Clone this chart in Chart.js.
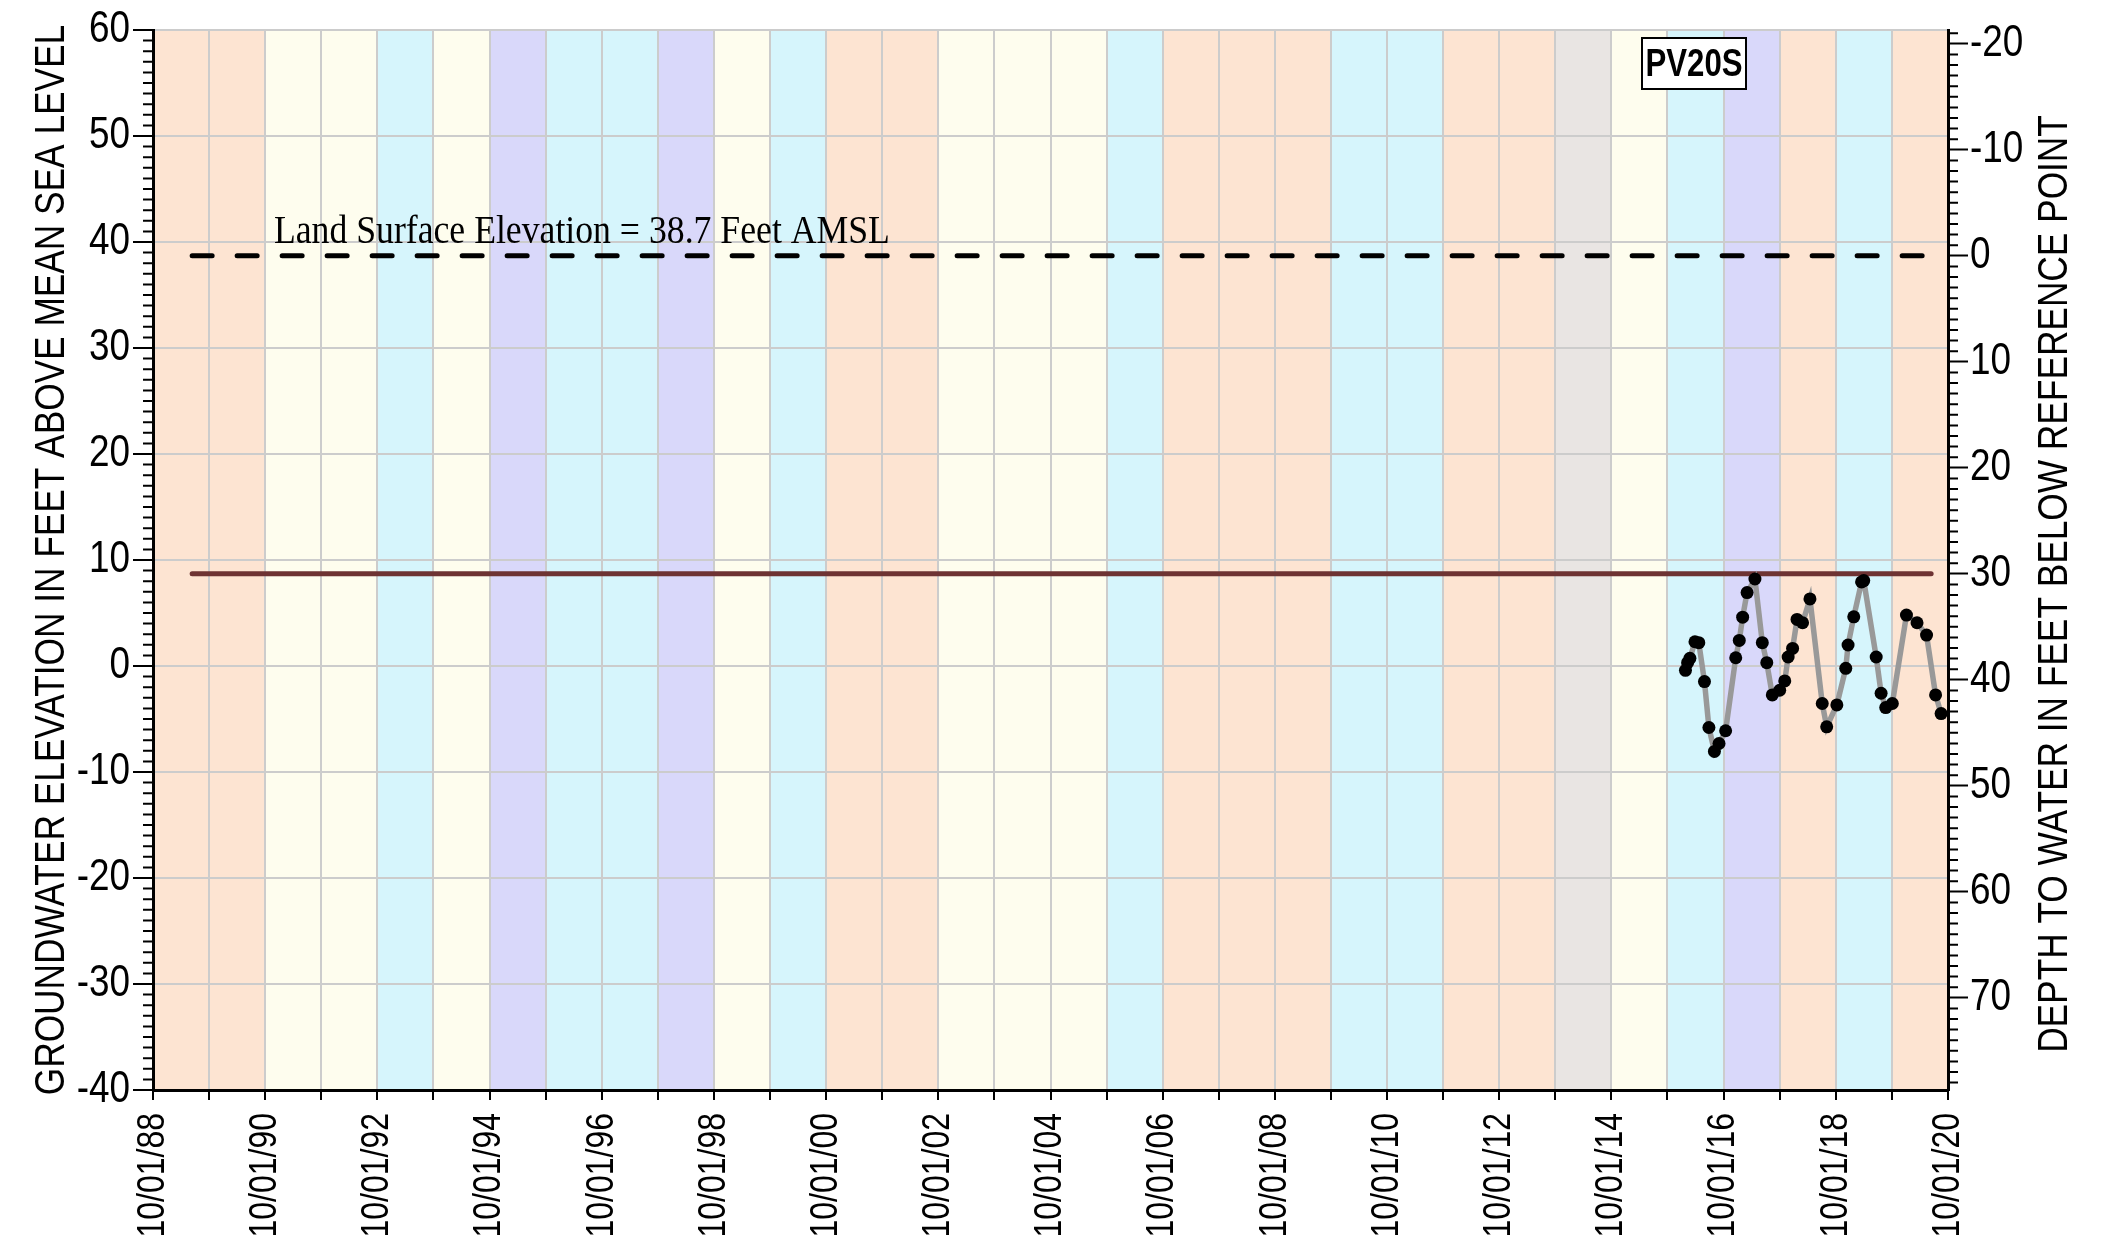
<!DOCTYPE html>
<html><head><meta charset="utf-8">
<script src="https://cdn.jsdelivr.net/npm/chart.js@4/dist/chart.umd.min.js"></script>
<style>html,body{margin:0;padding:0;background:#fff;overflow:hidden}canvas{display:block}</style>
</head><body>
<canvas id="c" width="2128" height="1251"></canvas>
<script>
// ---------------- data ----------------
const wellName = 'PV20S';
const landSurfaceElevation = 38.7;          // feet AMSL
const referenceElevation = 8.7;             // brown reference line, feet AMSL
const referenceLineStart = '1989-06-13';
const referenceLineEnd = '2020-06-13';
const landSurfaceLabel = 'Land Surface Elevation = 38.7 Feet AMSL';

const waterYears = [1989,1990,1991,1992,1993,1994,1995,1996,1997,1998,1999,2000,2001,2002,2003,2004,
                    2005,2006,2007,2008,2009,2010,2011,2012,2013,2014,2015,2016,2017,2018,2019,2020];
const waterYearTypes = ['D','D','BN','BN','AN','BN','W','AN','AN','W','BN','AN','D','D','BN','BN',
                        'BN','AN','D','D','D','AN','AN','D','D','C','BN','AN','W','D','AN','D'];

const sampleDates = ['2016-01-26','2016-02-09','2016-02-24','2016-03-28','2016-04-22','2016-05-29','2016-06-27',
  '2016-08-02','2016-09-01','2016-10-14','2016-12-19','2017-01-11','2017-02-02','2017-03-03','2017-04-23',
  '2017-06-10','2017-07-09','2017-08-14','2017-10-01','2017-11-03','2017-11-25','2017-12-24','2018-01-22',
  '2018-02-27','2018-04-16','2018-07-05','2018-08-03','2018-10-08','2018-12-05','2018-12-20','2019-01-26',
  '2019-03-18','2019-04-01','2019-06-21','2019-07-23','2019-08-22','2019-10-04','2020-01-04','2020-03-13',
  '2020-05-14','2020-07-12','2020-08-17'];
const groundwaterElevation = [-0.41,0.31,0.72,2.29,2.20,-1.47,-5.80,-8.06,-7.31,-6.11,0.78,2.41,4.61,6.93,8.21,
  2.20,0.31,-2.73,-2.29,-1.41,0.85,1.66,4.39,4.08,6.33,-3.54,-5.74,-3.67,-0.22,1.98,4.64,7.93,8.06,0.85,
  -2.57,-3.92,-3.54,4.80,4.08,2.92,-2.73,-4.49];

const xTickLabels = ['10/01/88','10/01/90','10/01/92','10/01/94','10/01/96','10/01/98','10/01/00','10/01/02',
  '10/01/04','10/01/06','10/01/08','10/01/10','10/01/12','10/01/14','10/01/16','10/01/18','10/01/20'];
const elevationTicks = [-40,-30,-20,-10,0,10,20,30,40,50,60];
const depthTicks = [-20,-10,0,10,20,30,40,50,60,70];
const elevationMin = -40, elevationMax = 60;

const leftTitle = 'GROUNDWATER ELEVATION IN FEET ABOVE MEAN SEA LEVEL';
const rightTitle = 'DEPTH TO WATER IN FEET BELOW REFERENCE POINT';

// ---------------- helpers ----------------
function decimalYear(s){
  const [y,m,d] = s.split('-').map(Number);
  const t0 = Date.UTC(y,0,1), t1 = Date.UTC(y+1,0,1);
  return y + (Date.UTC(y,m-1,d) - t0) / (t1 - t0);
}
function hasFont(f){
  const c = document.createElement('canvas').getContext('2d');
  const s = 'ABCDEFGHIJKLMNOPQRSTUVWXYZ 0123456789';
  c.font = '50px monospace'; const w1 = c.measureText(s).width;
  c.font = `50px "${f}", monospace`; const w2 = c.measureText(s).width;
  return Math.abs(w1-w2) > 0.5;
}
// "Arial Narrow" look: use it when present, otherwise Liberation Sans squeezed horizontally.
const NARROW = '"Arial Narrow", "Liberation Sans", Arial, sans-serif';
const SQUEEZE = (hasFont('Arial Narrow') ? 1 : 0.82);
const canvas = document.getElementById('c');
const ctx2d = canvas.getContext('2d');
const nativeFillText = ctx2d.fillText;
ctx2d.fillText = function(text, x, y, maxWidth){
  if (SQUEEZE !== 1 && this.font.indexOf('Arial Narrow') >= 0) {
    let w = this.measureText(text).width * SQUEEZE;
    if (maxWidth !== undefined && maxWidth < w) w = maxWidth;
    return nativeFillText.call(this, text, x, y, w);
  }
  return maxWidth === undefined ? nativeFillText.call(this, text, x, y) : nativeFillText.call(this, text, x, y, maxWidth);
};

const bandColors = {D:'#FDE4D2', BN:'#FEFDEE', AN:'#D6F5FC', W:'#D9D8FA', C:'#E9E5E3'};

const xMin = decimalYear('1988-10-01'), xMax = decimalYear('2020-10-01');
const yearTicks = [];
for (let y = 1988; y <= 2020; y++) yearTicks.push(decimalYear(`${y}-10-01`));

const seriesPts = sampleDates.map((d,i)=>({x:decimalYear(d), y:groundwaterElevation[i]}));
const lsPts = [{x:decimalYear(referenceLineStart), y:landSurfaceElevation},{x:decimalYear(referenceLineEnd), y:landSurfaceElevation}];
const refPts = [{x:decimalYear(referenceLineStart), y:referenceElevation},{x:decimalYear(referenceLineEnd), y:referenceElevation}];

// ---------------- plugins ----------------
const bandPlugin = {
  id:'waterYearBands',
  beforeDraw(chart){
    const {ctx, chartArea:a, scales:{x}} = chart;
    ctx.save();
    waterYears.forEach((wy,i)=>{
      const x0 = x.getPixelForValue(decimalYear(`${wy-1}-10-01`));
      const x1 = x.getPixelForValue(decimalYear(`${wy}-10-01`));
      ctx.fillStyle = bandColors[waterYearTypes[i]];
      ctx.fillRect(x0, a.top, x1-x0, a.bottom-a.top);
    });
    ctx.restore();
  }
};
const overlayPlugin = {
  id:'overlay',
  afterDraw(chart){
    const {ctx, chartArea:a, scales:{x, y, depth}} = chart;
    ctx.save();
    // minor ticks
    ctx.strokeStyle = '#000'; ctx.lineWidth = 2; ctx.beginPath();
    for (let v = Math.ceil(y.min); v <= y.max; v++){
      if (v % 10 === 0) continue;
      const py = y.getPixelForValue(v);
      ctx.moveTo(a.left-10, py); ctx.lineTo(a.left, py);
    }
    for (let v = Math.ceil(depth.min); v <= Math.floor(depth.max); v++){
      if (v % 10 === 0) continue;
      const py = depth.getPixelForValue(v);
      ctx.moveTo(a.right, py); ctx.lineTo(a.right+10, py);
    }
    ctx.stroke();
    // land surface label
    ctx.fillStyle = '#000';
    ctx.font = '41px "Liberation Serif", serif';
    ctx.textAlign = 'left'; ctx.textBaseline = 'alphabetic';
    ctx.fillText(landSurfaceLabel, x.getPixelForValue(decimalYear('1990-11-27')), y.getPixelForValue(40)+1, 616);
    // well name box
    const bx = a.right - 306, by = a.top + 8, bw = 104, bh = 51;
    ctx.fillStyle = '#fff'; ctx.fillRect(bx, by, bw, bh);
    ctx.strokeStyle = '#000'; ctx.lineWidth = 2; ctx.strokeRect(bx, by, bw, bh);
    ctx.fillStyle = '#000';
    ctx.font = `bold 38px ${NARROW}`;
    ctx.textAlign = 'center'; ctx.textBaseline = 'middle';
    ctx.fillText(wellName, bx + bw/2, by + bh/2 + 2);
    // right title (reads bottom to top)
    ctx.font = `43px ${NARROW}`;
    ctx.translate(depth.left + 107, (a.top + a.bottom)/2 + 24);
    ctx.rotate(-Math.PI/2);
    ctx.textAlign = 'center'; ctx.textBaseline = 'middle';
    ctx.fillText(rightTitle, 0, 0);
    ctx.restore();
  }
};

// ---------------- chart ----------------
new Chart(canvas, {
  type:'line',
  data:{datasets:[
    {label:'Groundwater Elevation', data:seriesPts, borderColor:'#999999', borderWidth:5.5,
     pointRadius:6.5, pointHoverRadius:6.5, pointBackgroundColor:'#000', pointBorderWidth:0, tension:0, yAxisID:'y'},
    {label:'Reference', data:refPts, borderColor:'#6E3333', borderWidth:5, borderCapStyle:'round',
     pointRadius:0, yAxisID:'y'},
    {label:'Land Surface', data:lsPts, borderColor:'#000', borderWidth:5, borderDash:[20,25], borderCapStyle:'round',
     pointRadius:0, yAxisID:'y'}
  ]},
  options:{
    responsive:false, animation:false, devicePixelRatio:1,
    layout:{padding:{top:27, left:0, right:0, bottom:0}},
    plugins:{legend:{display:false}, tooltip:{enabled:false}},
    scales:{
      x:{type:'linear', position:'bottom', min:xMin, max:xMax,
         afterBuildTicks:s=>{ s.ticks = yearTicks.map(v=>({value:v})); },
         afterFit:s=>{ s.height = 161; },
         ticks:{autoSkip:false, maxRotation:90, minRotation:90, padding:13, color:'#000',
                font:{family:NARROW, size:39},
                callback:(v,i)=> i%2===0 ? xTickLabels[i/2] : ''},
         grid:{color:'#cccccc', lineWidth:2, tickLength:10, tickColor:'#000', tickWidth:2},
         border:{color:'#000', width:3}},
      y:{type:'linear', position:'left', min:elevationMin, max:elevationMax,
         afterBuildTicks:s=>{ s.ticks = elevationTicks.map(v=>({value:v})); },
         afterFit:s=>{ s.width = 153; },
         ticks:{autoSkip:false, padding:3, color:'#000', font:{family:NARROW, size:45},
                callback:v=>String(v)},
         grid:{color:'#cccccc', lineWidth:2, tickLength:20, tickColor:'#000', tickWidth:2},
         border:{color:'#000', width:3},
         title:{display:true, text:leftTitle, color:'#000', padding:{top:26, bottom:0},
                font:{family:NARROW, size:43}}},
      depth:{type:'linear', position:'right', reverse:true,
         min:landSurfaceElevation-elevationMax, max:landSurfaceElevation-elevationMin,
         afterBuildTicks:s=>{ s.ticks = depthTicks.map(v=>({value:v})); },
         afterFit:s=>{ s.width = 180; },
         ticks:{autoSkip:false, padding:2, color:'#000', font:{family:NARROW, size:45},
                callback:v=>String(v)},
         grid:{drawOnChartArea:false, tickLength:20, tickColor:'#000', tickWidth:2},
         border:{color:'#000', width:3}}
    }
  },
  plugins:[bandPlugin, overlayPlugin]
});
</script>
</body></html>
